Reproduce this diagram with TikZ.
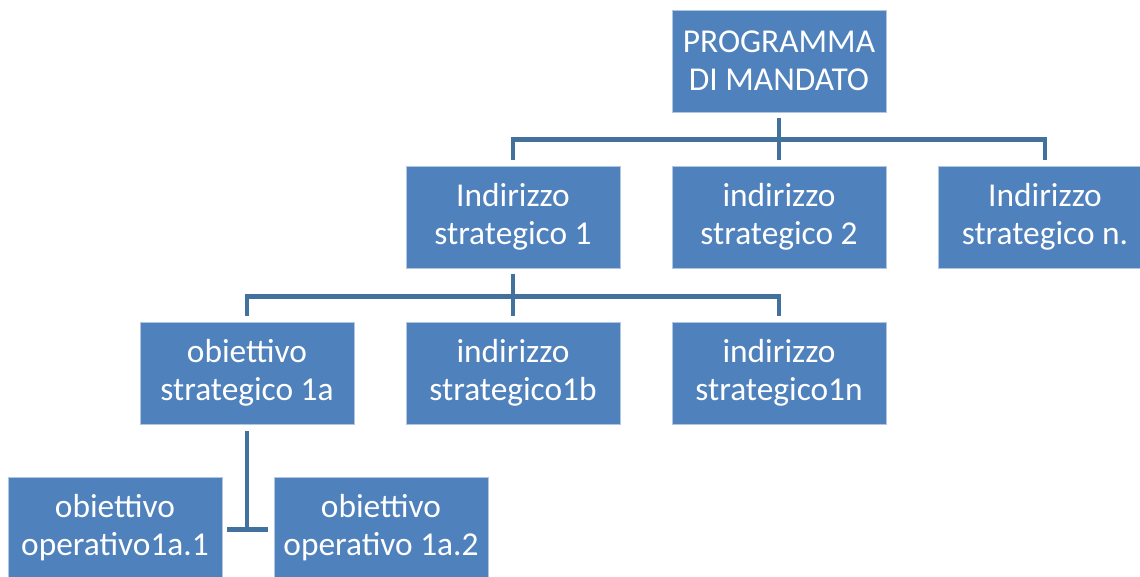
\documentclass[tikz,border=0pt]{standalone}
\usepackage{fontspec}
\setmainfont{Carlito}
\usetikzlibrary{calc}
\definecolor{boxblue}{HTML}{4F81BD}
\definecolor{linkblue}{HTML}{41719C}
\tikzset{
        box/.style={fill=boxblue, draw=white!55!boxblue, line width=0.3pt, text=white, align=center,
          minimum width=4.28cm, minimum height=2.04cm, inner sep=0pt, font=\fontsize{19}{21.6}\selectfont},
        link/.style={draw=linkblue, line width=2.6pt, line join=miter},
          }
\begin{document}
\begin{tikzpicture}[x=0.02cm, y=-0.02cm]
        \useasboundingbox (0,0) rectangle (1140,576);
        \node[box] (prog) at (779,61) {PROGRAMMA\\DI MANDATO};
        \node[box] (ind1) at (513,217) {Indirizzo\\strategico 1};
        \node[box] (ind2) at (779,217) {indirizzo\\strategico 2};
        \node[box] (indn) at (1045,217) {Indirizzo\\strategico n.};
        \node[box] (ob1a) at (247,373) {obiettivo\\strategico 1a};
        \node[box] (ind1b) at (513,373) {indirizzo\\strategico1b};
        \node[box] (ind1n) at (779,373) {indirizzo\\strategico1n};
        \node[box] (op1) at (115,528) {obiettivo\\operativo1a.1};
        \node[box] (op2) at (381,528) {obiettivo\\operativo 1a.2};
        \coordinate (hub) at ($(ob1a.south)+(0,105)$);
        \draw[link] ($(ind1.north)-(0,6)$) |- ($(prog.south)+(0,27)$) -| ($(indn.north)-(0,6)$);
        \draw[link] ($(prog.south)+(0,6)$) -- ($(ind2.north)-(0,6)$);
        \draw[link] ($(ob1a.north)-(0,6)$) |- ($(ind1.south)+(0,28)$) -| ($(ind1n.north)-(0,6)$);
        \draw[link] ($(ind1.south)+(0,6)$) -- ($(ind1b.north)-(0,6)$);
        \draw[link] ($(ob1a.south)+(0,7)$) -- (hub);
        \draw[link] ($(op1.east |- hub)+(5,0)$) -- ($(op2.west |- hub)-(6,0)$);
\end{tikzpicture}
\end{document}
